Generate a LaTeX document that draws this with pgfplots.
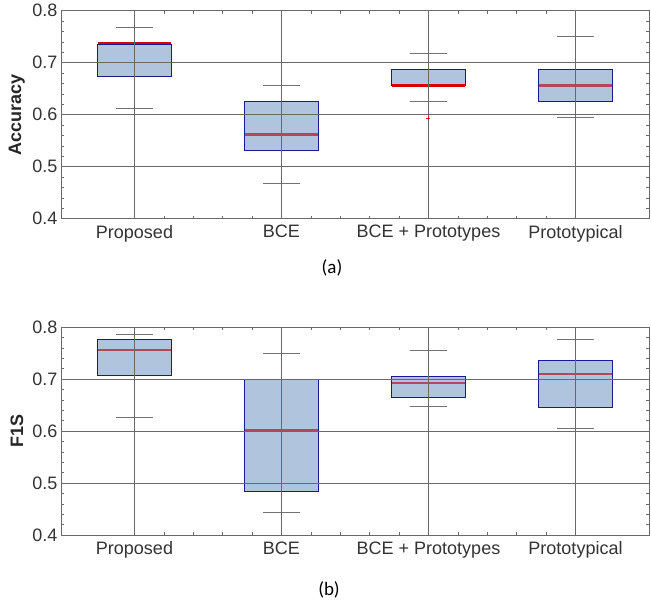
\documentclass[border=0pt]{standalone}
\usepackage{pgfplots}
\pgfplotsset{compat=1.18}
\usepackage{fontspec}
\setmainfont{Liberation Sans}
\newfontfamily\capfont{Carlito}

\definecolor{boxfill}{RGB}{176,196,222}
\definecolor{boxedge}{RGB}{25,25,150}
\definecolor{medc}{RGB}{180,70,95}
\definecolor{gridc}{RGB}{105,105,105}

\pgfplotsset{
 myax/.style={
  scale only axis, width=588pt, height=208pt,
  xmin=-0.5, xmax=3.5, ymin=0.4, ymax=0.8,
  xtick={0,1,2,3},
  xticklabels={Proposed,BCE,BCE + Prototypes,Prototypical},
  ytick={0.4,0.5,0.6,0.7,0.8},
  minor x tick num=4, minor y tick num=4,
  grid=major, major grid style={gridc, line width=0.5pt},
  axis line style={gridc, line width=0.6pt},
  tick style={gridc, line width=0.5pt},
  major tick length=4pt, minor tick length=3pt,
  axis on top,
  unbounded coords=jump,
  tick label style={font=\fontsize{18}{20}\selectfont, text=black!80},
  xticklabel style={yshift=-3pt},
  /pgf/number format/assume math mode=true,
  yticklabel style={/pgf/number format/fixed, /pgf/number format/precision=1, /pgf/number format/fixed zerofill},
  every axis y label/.style={at={(axis description cs:-0.075,0.5)}, rotate=90, anchor=center, font=\fontsize{18}{20}\selectfont\bfseries, text=black!85},
 },
 whisk/.style={black!75, densely dashed, line width=0.5pt, mark=none},
 cap/.style={black!55, line width=0.6pt, mark=none},
 bx/.style={draw=boxedge, fill=boxfill, line width=0.9pt, mark=none},
 med/.style={medc, line width=2.2pt, mark=none},
}

\begin{document}
\begin{tikzpicture}
\path[use as bounding box] (0pt,0pt) rectangle (651pt,607pt);

% ---------- (a) Accuracy ----------
% lower whisker, q1, median, q3, upper whisker
% Proposed: 0.612 0.674 0.738 0.736 0.769
% BCE: 0.469 0.532 0.562 0.625 0.656
% BCE + Prototypes: 0.626 0.656 0.656 0.687 0.719 (outlier 0.594)
% Prototypical: 0.595 0.625 0.656 0.687 0.750
\begin{axis}[myax, at={(61pt,388.3pt)}, anchor=south west, ylabel={Accuracy}]
\addplot[whisk] coordinates {(0,0.612) (0,0.674) (0,nan) (0,0.736) (0,0.769) (1,nan)
 (1,0.469) (1,0.532) (1,nan) (1,0.625) (1,0.656) (2,nan)
 (2,0.626) (2,0.656) (2,nan) (2,0.687) (2,0.719) (3,nan)
 (3,0.595) (3,0.625) (3,nan) (3,0.687) (3,0.750)};
\addplot[bx] coordinates {(-0.25,0.674) (0.25,0.674) (0.25,0.736) (-0.25,0.736)} --cycle;
\addplot[bx] coordinates {(0.75,0.532) (1.25,0.532) (1.25,0.625) (0.75,0.625)} --cycle;
\addplot[bx] coordinates {(1.75,0.656) (2.25,0.656) (2.25,0.687) (1.75,0.687)} --cycle;
\addplot[bx] coordinates {(2.75,0.625) (3.25,0.625) (3.25,0.687) (2.75,0.687)} --cycle;
\addplot[med, red!85!black] coordinates {(-0.25,0.738) (0.25,0.738)};
\addplot[med] coordinates {(0.75,0.562) (1.25,0.562)};
\addplot[med, red!85!black] coordinates {(1.75,0.656) (2.25,0.656)};
\addplot[med] coordinates {(2.75,0.656) (3.25,0.656)};
\addplot[cap] coordinates {(-0.125,0.612) (0.125,0.612) (0,nan) (-0.125,0.769) (0.125,0.769) (1,nan)
 (0.875,0.469) (1.125,0.469) (1,nan) (0.875,0.656) (1.125,0.656) (2,nan)
 (1.875,0.626) (2.125,0.626) (2,nan) (1.875,0.719) (2.125,0.719) (3,nan)
 (2.875,0.595) (3.125,0.595) (3,nan) (2.875,0.750) (3.125,0.750)};
\addplot[only marks, mark=+, mark size=2pt, red, line width=0.4pt] coordinates {(2,0.594)};
\end{axis}

% ---------- (b) F1S ----------
% Proposed: 0.626 0.706 0.755 0.777 0.785
% BCE: 0.444 0.484 0.602 0.700 0.749
% BCE + Prototypes: 0.648 0.665 0.692 0.704 0.755
% Prototypical: 0.605 0.646 0.710 0.735 0.776
\begin{axis}[myax, at={(61pt,72pt)}, anchor=south west, ylabel={F1S}]
\addplot[whisk] coordinates {(0,0.626) (0,0.706) (0,nan) (0,0.777) (0,0.785) (1,nan)
 (1,0.444) (1,0.484) (1,nan) (1,0.700) (1,0.749) (2,nan)
 (2,0.648) (2,0.665) (2,nan) (2,0.704) (2,0.755) (3,nan)
 (3,0.605) (3,0.646) (3,nan) (3,0.735) (3,0.776)};
\addplot[bx] coordinates {(-0.25,0.706) (0.25,0.706) (0.25,0.777) (-0.25,0.777)} --cycle;
\addplot[bx] coordinates {(0.75,0.484) (1.25,0.484) (1.25,0.700) (0.75,0.700)} --cycle;
\addplot[bx] coordinates {(1.75,0.665) (2.25,0.665) (2.25,0.704) (1.75,0.704)} --cycle;
\addplot[bx] coordinates {(2.75,0.646) (3.25,0.646) (3.25,0.735) (2.75,0.735)} --cycle;
\addplot[med] coordinates {(-0.25,0.755) (0.25,0.755)};
\addplot[med] coordinates {(0.75,0.602) (1.25,0.602)};
\addplot[med] coordinates {(1.75,0.692) (2.25,0.692)};
\addplot[med] coordinates {(2.75,0.710) (3.25,0.710)};
\addplot[cap] coordinates {(-0.125,0.626) (0.125,0.626) (0,nan) (-0.125,0.785) (0.125,0.785) (1,nan)
 (0.875,0.444) (1.125,0.444) (1,nan) (0.875,0.749) (1.125,0.749) (2,nan)
 (1.875,0.648) (2.125,0.648) (2,nan) (1.875,0.755) (2.125,0.755) (3,nan)
 (2.875,0.605) (3.125,0.605) (3,nan) (2.875,0.776) (3.125,0.776)};
\end{axis}

\node[font=\capfont\fontsize{19}{21}\selectfont] at (332pt,339pt) {(a)};
\node[font=\capfont\fontsize{19}{21}\selectfont] at (329pt,17pt) {(b)};
\end{tikzpicture}
\end{document}
